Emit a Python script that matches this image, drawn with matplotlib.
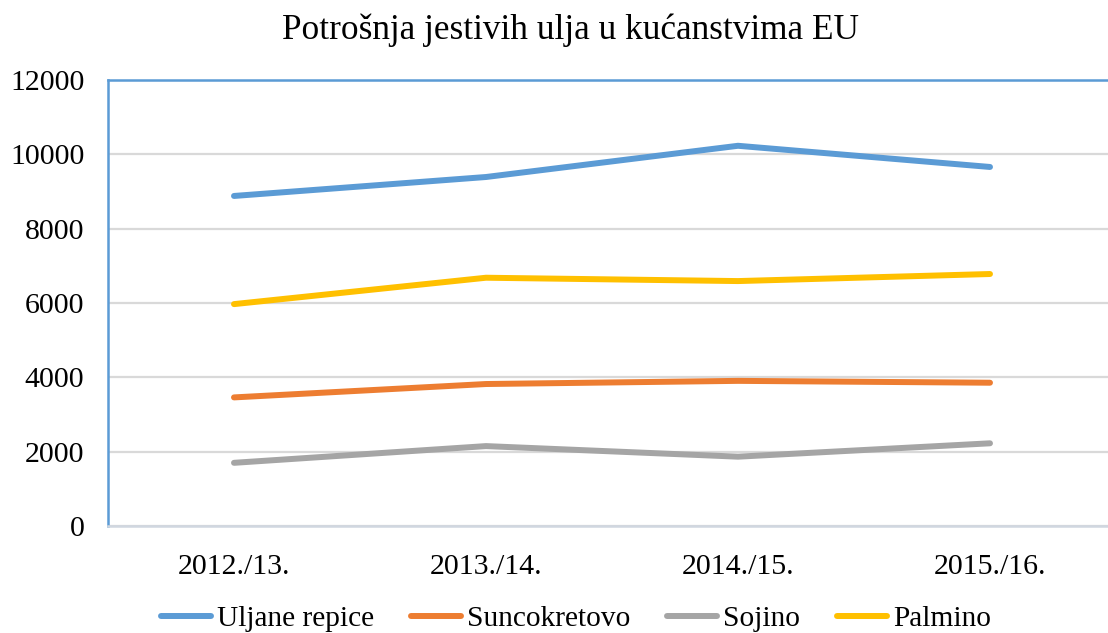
import matplotlib
matplotlib.use("Agg")
import matplotlib.pyplot as plt

categories = ["2012./13.", "2013./14.", "2014./15.", "2015./16."]
uljane_repice = [8880, 9390, 10230, 9660]
suncokretovo = [3460, 3820, 3905, 3855]
sojino = [1700, 2150, 1865, 2225]
palmino = [5970, 6680, 6590, 6780]

series = [
    ("Uljane repice", uljane_repice, "#5B9BD5"),
    ("Suncokretovo", suncokretovo, "#ED7D31"),
    ("Sojino", sojino, "#A5A5A5"),
    ("Palmino", palmino, "#FFC000"),
]

plt.rcParams['font.family'] = ['Liberation Serif', 'DejaVu Serif']

fig = plt.figure(figsize=(11.08, 6.33), dpi=100)
ax = fig.add_axes([108/1108, 1-526/633, 1008/1108, (526-80)/633])

x = [i + 0.5 for i in range(len(categories))]
for name, vals, col in series:
    ax.plot(x, vals, color=col, lw=4.3, solid_capstyle='round', solid_joinstyle='round', label=name, zorder=3)

ax.set_xlim(0, 4)
ax.set_ylim(0, 12000)
ax.set_yticks(range(0, 12001, 2000))
ax.set_xticks(x)
ax.set_xticklabels(categories)
ax.tick_params(axis='both', length=0, labelsize=21.5, colors='black')
ax.tick_params(axis='x', pad=20)
ax.tick_params(axis='y', pad=17)
ax.grid(axis='y', color='#D9D9D9', lw=1.6, zorder=0)
ax.set_axisbelow(True)
for s in ['left', 'top']:
    ax.spines[s].set_color('#5B9BD5')
    ax.spines[s].set_linewidth(1.8)
ax.spines['right'].set_visible(False)
ax.spines['bottom'].set_color('#D0D7E0')
ax.spines['bottom'].set_linewidth(1.8)

fig.text(0.515, 1-30/633, "Potrošnja jestivih ulja u kućanstvima EU", ha='center', va='center', fontsize=25.4)

leg = fig.legend(loc='center', bbox_to_anchor=(0.52, 1-619/633), ncol=4, frameon=False,
                 fontsize=21.2, handlelength=1.7, handletextpad=0.2, columnspacing=1.25)
for h in leg.get_lines():
    h.set_linewidth(4.3)

fig.savefig("out.png", dpi=100)
